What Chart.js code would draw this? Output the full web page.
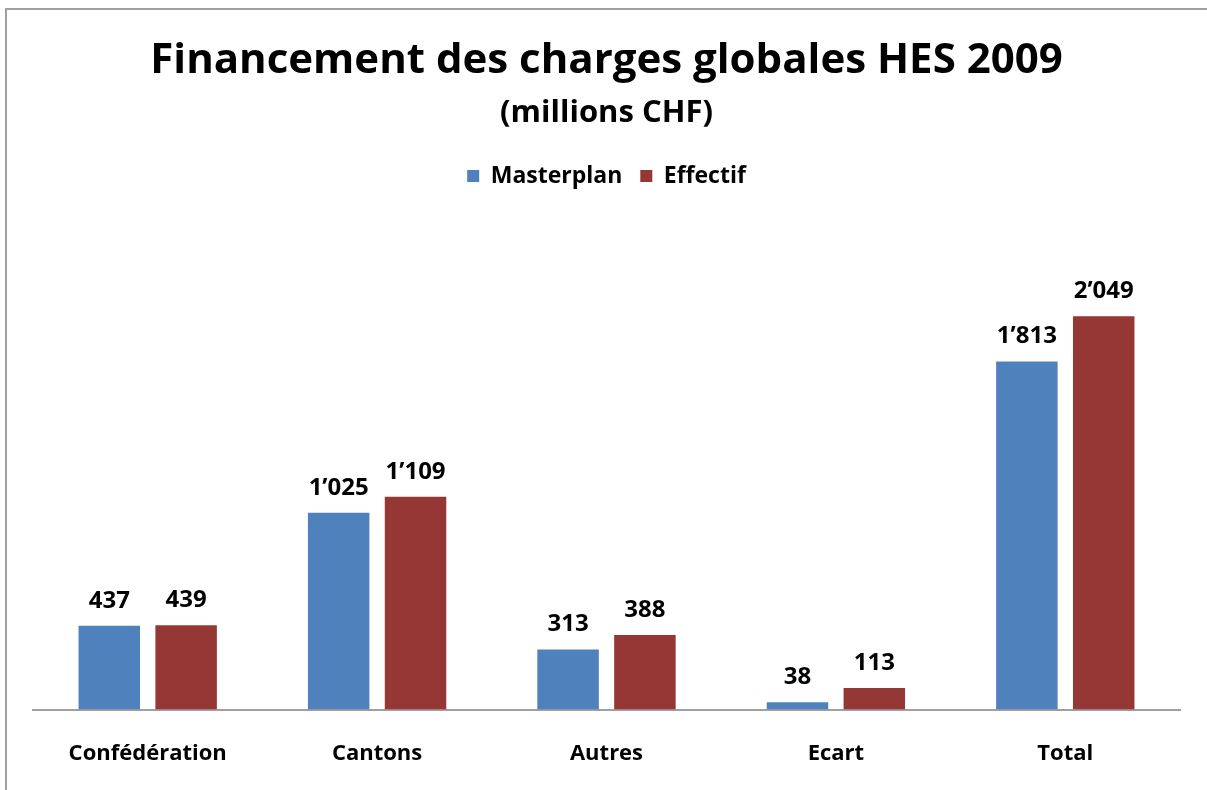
<!DOCTYPE html>
<html>
<head>
<meta charset="utf-8">
<script src="https://cdn.jsdelivr.net/npm/chart.js@4"></script>
<style>
  html, body { margin: 0; padding: 0; background: #fff; }
  #wrap { position: relative; width: 1207px; height: 790px; }
  #frame { position: absolute; left: 5px; top: 8px; right: -2px; bottom: -2px;
           border-left: 2px solid #a0a0a0; border-top: 2px solid #a0a0a0; }
  canvas { position: absolute; left: 0; top: 0; }
</style>
</head>
<body>
<div id="wrap">
  <div id="frame"></div>
  <canvas id="chart" width="1207" height="790"></canvas>
</div>
<script>
// data
const categories = ['Confédération', 'Cantons', 'Autres', 'Ecart', 'Total'];
const masterplan = [437, 1025, 313, 38, 1813];
const effectif = [439, 1109, 388, 113, 2049];
const seriesNames = ['Masterplan', 'Effectif'];

const FONT = "'Open Sans', 'DejaVu Sans', sans-serif";

// swiss thousands separator
const fmt = (v) => String(v).replace(/\B(?=(\d{3})+(?!\d))/g, '\u2019');

// value labels above each bar
const valueLabels = {
    id: 'valueLabels',
    afterDatasetsDraw(chart) {
        const ctx = chart.ctx;
        ctx.save();
        ctx.font = 'bold 24px ' + FONT;
        ctx.fillStyle = '#000';
        ctx.textAlign = 'center';
        ctx.textBaseline = 'bottom';
        chart.data.datasets.forEach((ds, i) => {
            chart.getDatasetMeta(i).data.forEach((bar, j) => {
                ctx.fillText(fmt(ds.data[j]), bar.x, bar.y - 13);
            });
        });
        ctx.restore();
    }
};

// extra room under the legend
const legendGap = {
    id: 'legendGap',
    beforeInit(chart) {
        const fit = chart.legend.fit;
        chart.legend.fit = function() {
            fit.bind(chart.legend)();
            this.height += 32;
        };
    }
};

window.onload = function() {
    const ctx = document.getElementById('chart').getContext('2d');
    new Chart(ctx, {
        type: 'bar',
        data: {
            labels: categories,
            datasets: [
                {
                    label: seriesNames[0],
                    data: masterplan,
                    backgroundColor: '#4f81bd',
                    categoryPercentage: 0.67,
                    barPercentage: 0.8
                },
                {
                    label: seriesNames[1],
                    data: effectif,
                    backgroundColor: '#953735',
                    categoryPercentage: 0.67,
                    barPercentage: 0.8
                }
            ]
        },
        options: {
            responsive: false,
            animation: false,
            layout: { padding: { left: 33, right: 27, top: 0, bottom: 0 } },
            scales: {
                x: {
                    grid: { display: false },
                    border: { display: true, color: '#a0a0a0', width: 2 },
                    ticks: { color: '#000', padding: 23, font: { family: FONT, size: 22, weight: 'bold' } }
                },
                y: {
                    display: false,
                    beginAtZero: true,
                    max: 2500
                }
            },
            plugins: {
                title: {
                    display: true,
                    text: 'Financement des charges globales HES 2009',
                    color: '#000',
                    font: { family: FONT, size: 42, weight: 'bold' },
                    padding: { top: 36, bottom: 8 }
                },
                subtitle: {
                    display: true,
                    text: '(millions CHF)',
                    color: '#000',
                    font: { family: FONT, size: 31, weight: 'bold' },
                    padding: { top: 0, bottom: 15 }
                },
                legend: {
                    display: true,
                    position: 'top',
                    labels: {
                        color: '#000',
                        boxWidth: 12,
                        boxHeight: 12,
                        padding: 18,
                        font: { family: FONT, size: 23, weight: 'bold' }
                    }
                },
                tooltip: { enabled: false }
            }
        },
        plugins: [valueLabels, legendGap]
    });
};
</script>
</body>
</html>
